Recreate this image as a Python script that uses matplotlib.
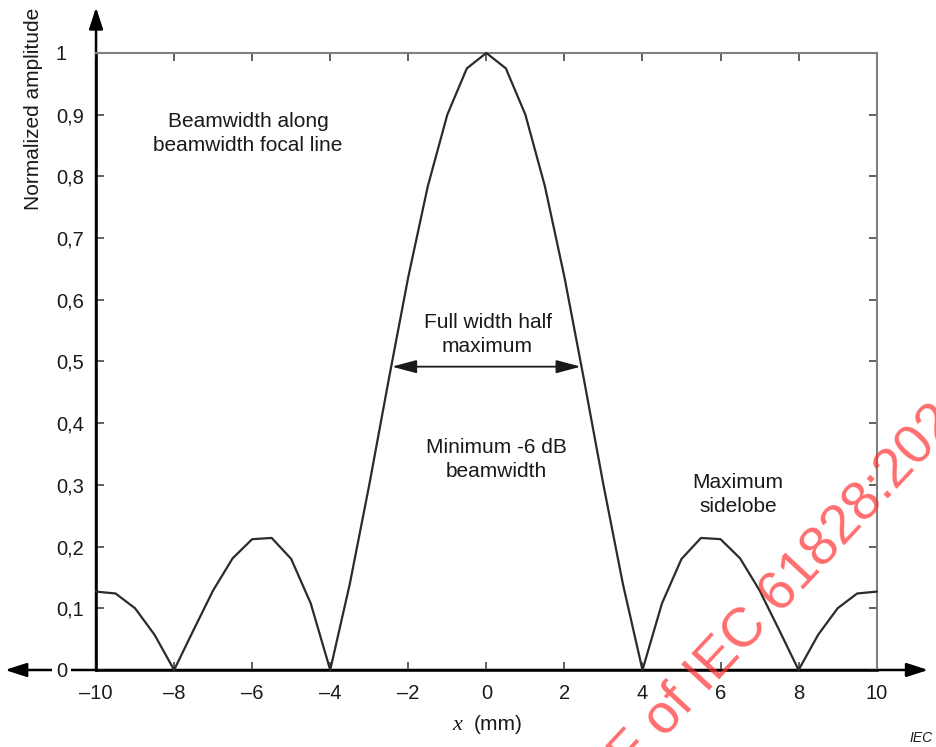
import numpy as np
import matplotlib
matplotlib.use('Agg')
import matplotlib.pyplot as plt
from matplotlib.patches import ArrowStyle

plt.rcParams['font.family'] = ['Liberation Sans', 'DejaVu Sans']

# beam profile, sampled every 0.5 mm
x_mm = [-10, -9.5, -9, -8.5, -8, -7.5, -7, -6.5, -6, -5.5, -5, -4.5, -4, -3.5, -3, -2.5, -2, -1.5, -1, -0.5,
        0, 0.5, 1, 1.5, 2, 2.5, 3, 3.5, 4, 4.5, 5, 5.5, 6, 6.5, 7, 7.5, 8, 8.5, 9, 9.5, 10]
amplitude = [0.127, 0.124, 0.100, 0.057, 0.0, 0.065, 0.129, 0.181, 0.212, 0.214, 0.180, 0.108, 0.0,
             0.139, 0.300, 0.471, 0.637, 0.784, 0.900, 0.975,
             1.0,
             0.975, 0.900, 0.784, 0.637, 0.471, 0.300, 0.139, 0.0, 0.108, 0.180, 0.214, 0.212, 0.181,
             0.129, 0.065, 0.0, 0.057, 0.100, 0.124, 0.127]

x_ticks = [-10, -8, -6, -4, -2, 0, 2, 4, 6, 8, 10]
x_ticklabels = ['\u201310', '\u20138', '\u20136', '\u20134', '\u20132', '0', '2', '4', '6', '8', '10']
y_ticks = [0, 0.1, 0.2, 0.3, 0.4, 0.5, 0.6, 0.7, 0.8, 0.9, 1.0]
y_ticklabels = ['0', '0,1', '0,2', '0,3', '0,4', '0,5', '0,6', '0,7', '0,8', '0,9', '1']

fwhm_level = 0.4916
fwhm_half = 2.42

fig = plt.figure(figsize=(9.36, 7.47), dpi=100)
ax = fig.add_axes([0.1026, 0.1031, 0.834, 0.826])

ax.plot(x_mm, amplitude, color='#2b2b2b', lw=1.6, clip_on=False, zorder=4)

ax.set_xlim(-10, 10)
ax.set_ylim(0, 1)
ax.set_xticks(x_ticks)
ax.set_xticklabels(x_ticklabels)
ax.set_yticks(y_ticks)
ax.set_yticklabels(y_ticklabels)

ax.tick_params(direction='in', length=6, width=1.3, color='#555555', labelsize=14.5,
               top=True, right=True, labelcolor='#1a1a1a')
ax.tick_params(axis='x', pad=10)
ax.tick_params(axis='y', pad=29)
for lab in ax.get_yticklabels():
    lab.set_horizontalalignment('left')
    lab.set_bbox(dict(facecolor='white', edgecolor='none', pad=3))

for side in ['left', 'bottom']:
    ax.spines[side].set_color('black')
    ax.spines[side].set_linewidth(1.8)
for side in ['top', 'right']:
    ax.spines[side].set_color('#808080')
    ax.spines[side].set_linewidth(1.5)

# axis arrows
head = ArrowStyle('-|>', head_length=0.65, head_width=0.21)
ax.annotate('', xy=(0, 1.074), xytext=(0, 0), xycoords='axes fraction',
            arrowprops=dict(arrowstyle=head, color='black', lw=1.8, mutation_scale=20,
                            shrinkA=0, shrinkB=0), annotation_clip=False, zorder=1)
both = ArrowStyle('<|-|>', head_length=0.65, head_width=0.21)
ax.annotate('', xy=(1.066, 0), xytext=(-0.1166, 0), xycoords='axes fraction',
            arrowprops=dict(arrowstyle=both, color='black', lw=1.8, mutation_scale=20,
                            shrinkA=0, shrinkB=0), annotation_clip=False, zorder=1)

# FWHM arrow
fw = ArrowStyle('<|-|>', head_length=0.75, head_width=0.2)
ax.annotate('', xy=(fwhm_half, fwhm_level), xytext=(-fwhm_half, fwhm_level),
            arrowprops=dict(arrowstyle=fw, color='#1a1a1a', lw=1.3, mutation_scale=20,
                            shrinkA=0, shrinkB=0))

txt = dict(ha='center', va='center', fontsize=15, color='#1a1a1a', linespacing=1.35)
ax.text(-6.105, 0.869, 'Beamwidth along\nbeamwidth focal line', **txt)
ax.text(0.03, 0.544, 'Full width half\nmaximum', **txt)
ax.text(0.26, 0.341, 'Minimum -6 dB\nbeamwidth', **txt)
ax.text(6.45, 0.284, 'Maximum\nsidelobe', **txt)

# axis titles
ax.text(-0.0807, 1.074, 'Normalized amplitude', transform=ax.transAxes,
        rotation=90, ha='center', va='top', fontsize=15, color='#1a1a1a')
fig.text(457 / 936, 0.0221, 'x', ha='center', va='baseline', fontsize=16,
         family='Liberation Serif', style='italic', color='#1a1a1a')
fig.text(474 / 936, 0.0221, '(mm)', ha='left', va='baseline', fontsize=15, color='#1a1a1a')
fig.text(0.9968, 0.0071, 'IEC', ha='right', va='baseline', fontsize=10, style='italic',
         color='#1a1a1a')

# watermark
fig.text(1.046, 0.4645, 'Click to view the full PDF of IEC 61828:2020', rotation=47,
         rotation_mode='anchor', ha='right', va='baseline', fontsize=40,
         color='#ff3030', alpha=0.7, zorder=10)

fig.savefig('out.png', dpi=100)
